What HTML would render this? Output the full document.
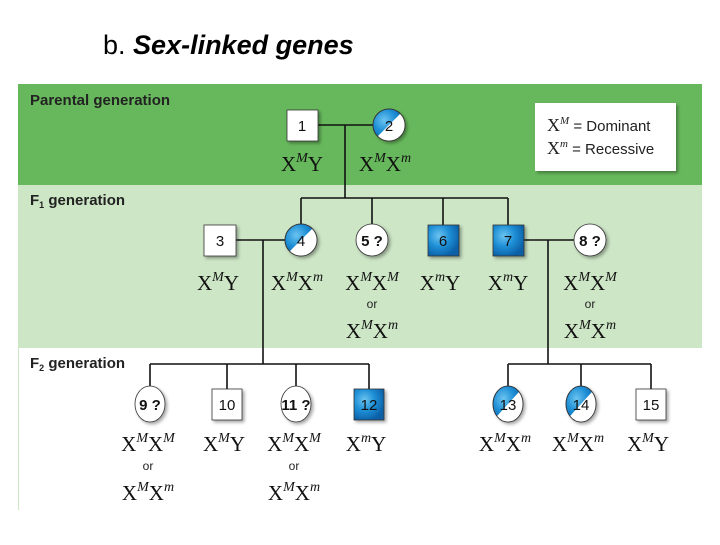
<!DOCTYPE html>
<html><head><meta charset="utf-8"><style>
body{margin:0;width:720px;height:540px;background:#fff;overflow:hidden}
</style></head><body>
<svg width="720" height="540" viewBox="0 0 720 540" xmlns="http://www.w3.org/2000/svg">
<defs>
<radialGradient id="bl" cx="35%" cy="35%" r="70%"><stop offset="0" stop-color="#6cc4f0"/><stop offset="0.5" stop-color="#1e8fd6"/><stop offset="1" stop-color="#0b5fa6"/></radialGradient>
<filter id="sh" x="-10%" y="-10%" width="130%" height="130%"><feDropShadow dx="2" dy="2" stdDeviation="1.5" flood-opacity="0.35"/></filter>
<clipPath id="c2"><circle cx="389" cy="125" r="16"/></clipPath>
<clipPath id="c4"><circle cx="301" cy="240" r="16"/></clipPath>
<clipPath id="c13"><ellipse cx="508" cy="404" rx="15" ry="18"/></clipPath>
<clipPath id="c14"><ellipse cx="581" cy="404" rx="15" ry="18"/></clipPath>
</defs>
<text x="103" y="54" font-family="Liberation Sans, sans-serif" font-size="27"><tspan>b. </tspan><tspan font-weight="bold" font-style="italic">Sex-linked genes</tspan></text>
<rect x="18" y="84" width="684" height="101" fill="#67b85c"/>
<rect x="18" y="185" width="684" height="163" fill="#cde6c6"/>
<rect x="18" y="348" width="684" height="162" fill="#fff"/>
<line x1="18.5" y1="348" x2="18.5" y2="510" stroke="#cde6c6"/>
<g font-family="Liberation Sans, sans-serif" font-weight="bold" font-size="15" fill="#222">
<text x="30" y="105">Parental generation</text>
<text x="30" y="205">F<tspan font-size="9" dy="3">1</tspan><tspan dy="-3"> generation</tspan></text>
<text x="30" y="368">F<tspan font-size="9" dy="3">2</tspan><tspan dy="-3"> generation</tspan></text>
</g>
<g stroke="#111" stroke-width="1.6" fill="none">
<line x1="318" y1="125" x2="373" y2="125"/><line x1="345" y1="125" x2="345" y2="198"/>
<line x1="301" y1="198" x2="508" y2="198"/>
<line x1="301" y1="198" x2="301" y2="224"/><line x1="372" y1="198" x2="372" y2="224"/>
<line x1="443" y1="198" x2="443" y2="225"/><line x1="508" y1="198" x2="508" y2="225"/>
<line x1="236" y1="240" x2="285" y2="240"/><line x1="263" y1="240" x2="263" y2="364"/>
<line x1="524" y1="240" x2="574" y2="240"/><line x1="548" y1="240" x2="548" y2="364"/>
<line x1="150" y1="364" x2="369" y2="364"/>
<line x1="150" y1="364" x2="150" y2="386"/><line x1="227" y1="364" x2="227" y2="389"/>
<line x1="296" y1="364" x2="296" y2="386"/><line x1="369" y1="364" x2="369" y2="389"/>
<line x1="508" y1="364" x2="651" y2="364"/>
<line x1="508" y1="364" x2="508" y2="386"/><line x1="581" y1="364" x2="581" y2="386"/><line x1="651" y1="364" x2="651" y2="389"/>
</g>
<g filter="url(#sh)" stroke="#333" stroke-width="0.8">
<rect x="287" y="110" width="31" height="31" fill="#fff"/>
<rect x="204" y="225" width="32" height="31" fill="#fff"/>
<rect x="428" y="225" width="31" height="31" fill="url(#bl)"/>
<rect x="493" y="225" width="31" height="31" fill="url(#bl)"/>
<circle cx="372" cy="240" r="16" fill="#fff"/>
<circle cx="590" cy="240" r="16" fill="#fff"/>
<rect x="212" y="389" width="30" height="31" fill="#fff"/>
<rect x="354" y="389" width="30" height="31" fill="url(#bl)"/>
<rect x="636" y="389" width="30" height="31" fill="#fff"/>
<ellipse cx="150" cy="404" rx="15" ry="18" fill="#fff"/>
<ellipse cx="296" cy="404" rx="15" ry="18" fill="#fff"/>
<rect x="535" y="103" width="141" height="68" fill="#fff" stroke="none"/>
<circle cx="389" cy="125" r="16" fill="url(#bl)"/>
<circle cx="301" cy="240" r="16" fill="url(#bl)"/>
<ellipse cx="508" cy="404" rx="15" ry="18" fill="url(#bl)"/>
<ellipse cx="581" cy="404" rx="15" ry="18" fill="url(#bl)"/>
</g>
<g fill="#fff">
<polygon points="369,145 409,105 409,145" clip-path="url(#c2)"/>
<polygon points="281,260 321,220 321,260" clip-path="url(#c4)"/>
<polygon points="488,426 528,382 528,426" clip-path="url(#c13)"/>
<polygon points="561,426 601,382 601,426" clip-path="url(#c14)"/>
</g>
<g fill="none" stroke="#333" stroke-width="0.8">
<circle cx="389" cy="125" r="16"/><circle cx="301" cy="240" r="16"/>
<ellipse cx="508" cy="404" rx="15" ry="18"/><ellipse cx="581" cy="404" rx="15" ry="18"/>
</g>
<g font-family="Liberation Sans, sans-serif" font-size="15" fill="#111" text-anchor="middle">
<text x="302" y="131">1</text><text x="389" y="131">2</text>
<text x="220" y="246">3</text><text x="301" y="246">4</text><text x="372" y="246" font-weight="bold">5 ?</text>
<text x="443" y="246">6</text><text x="508" y="246">7</text><text x="590" y="246" font-weight="bold">8 ?</text>
<text x="150" y="410" font-weight="bold">9 ?</text><text x="227" y="410">10</text><text x="296" y="410" font-weight="bold">11 ?</text>
<text x="369" y="410">12</text><text x="508" y="410">13</text><text x="581" y="410">14</text><text x="651" y="410">15</text>
</g>
<g font-family="Liberation Sans, sans-serif" font-size="15" fill="#222">
<text x="547" y="131"><tspan font-family="Liberation Serif, serif" font-size="18">X</tspan><tspan font-family="Liberation Serif, serif" font-style="italic" font-size="11" dy="-7">M</tspan><tspan dy="7"> = Dominant</tspan></text>
<text x="547" y="154"><tspan font-family="Liberation Serif, serif" font-size="18">X</tspan><tspan font-family="Liberation Serif, serif" font-style="italic" font-size="11" dy="-7">m</tspan><tspan dy="7"> = Recessive</tspan></text>
</g>
<g font-family="Liberation Serif, serif" font-size="21" fill="#111" text-anchor="middle">
<text x="302" y="171">X<tspan font-style="italic" font-size="14" dy="-9">M</tspan><tspan dy="9">Y</tspan></text>
<text x="385" y="171">X<tspan font-style="italic" font-size="14" dy="-9">M</tspan><tspan dy="9">X</tspan><tspan font-style="italic" font-size="14" dy="-9">m</tspan></text>
<text x="218" y="290">X<tspan font-style="italic" font-size="14" dy="-9">M</tspan><tspan dy="9">Y</tspan></text>
<text x="297" y="290">X<tspan font-style="italic" font-size="14" dy="-9">M</tspan><tspan dy="9">X</tspan><tspan font-style="italic" font-size="14" dy="-9">m</tspan></text>
<text x="372" y="290">X<tspan font-style="italic" font-size="14" dy="-9">M</tspan><tspan dy="9">X</tspan><tspan font-style="italic" font-size="14" dy="-9">M</tspan></text>
<text x="372" y="338">X<tspan font-style="italic" font-size="14" dy="-9">M</tspan><tspan dy="9">X</tspan><tspan font-style="italic" font-size="14" dy="-9">m</tspan></text>
<text x="440" y="290">X<tspan font-style="italic" font-size="14" dy="-9">m</tspan><tspan dy="9">Y</tspan></text>
<text x="508" y="290">X<tspan font-style="italic" font-size="14" dy="-9">m</tspan><tspan dy="9">Y</tspan></text>
<text x="590" y="290">X<tspan font-style="italic" font-size="14" dy="-9">M</tspan><tspan dy="9">X</tspan><tspan font-style="italic" font-size="14" dy="-9">M</tspan></text>
<text x="590" y="338">X<tspan font-style="italic" font-size="14" dy="-9">M</tspan><tspan dy="9">X</tspan><tspan font-style="italic" font-size="14" dy="-9">m</tspan></text>
<text x="148" y="451">X<tspan font-style="italic" font-size="14" dy="-9">M</tspan><tspan dy="9">X</tspan><tspan font-style="italic" font-size="14" dy="-9">M</tspan></text>
<text x="148" y="500">X<tspan font-style="italic" font-size="14" dy="-9">M</tspan><tspan dy="9">X</tspan><tspan font-style="italic" font-size="14" dy="-9">m</tspan></text>
<text x="224" y="451">X<tspan font-style="italic" font-size="14" dy="-9">M</tspan><tspan dy="9">Y</tspan></text>
<text x="294" y="451">X<tspan font-style="italic" font-size="14" dy="-9">M</tspan><tspan dy="9">X</tspan><tspan font-style="italic" font-size="14" dy="-9">M</tspan></text>
<text x="294" y="500">X<tspan font-style="italic" font-size="14" dy="-9">M</tspan><tspan dy="9">X</tspan><tspan font-style="italic" font-size="14" dy="-9">m</tspan></text>
<text x="366" y="451">X<tspan font-style="italic" font-size="14" dy="-9">m</tspan><tspan dy="9">Y</tspan></text>
<text x="505" y="451">X<tspan font-style="italic" font-size="14" dy="-9">M</tspan><tspan dy="9">X</tspan><tspan font-style="italic" font-size="14" dy="-9">m</tspan></text>
<text x="578" y="451">X<tspan font-style="italic" font-size="14" dy="-9">M</tspan><tspan dy="9">X</tspan><tspan font-style="italic" font-size="14" dy="-9">m</tspan></text>
<text x="648" y="451">X<tspan font-style="italic" font-size="14" dy="-9">M</tspan><tspan dy="9">Y</tspan></text>
</g>
<g font-family="Liberation Sans, sans-serif" font-size="12" fill="#222" text-anchor="middle">
<text x="372" y="308">or</text><text x="590" y="308">or</text>
<text x="148" y="470">or</text><text x="294" y="470">or</text>
</g>
</svg>
</body></html>
